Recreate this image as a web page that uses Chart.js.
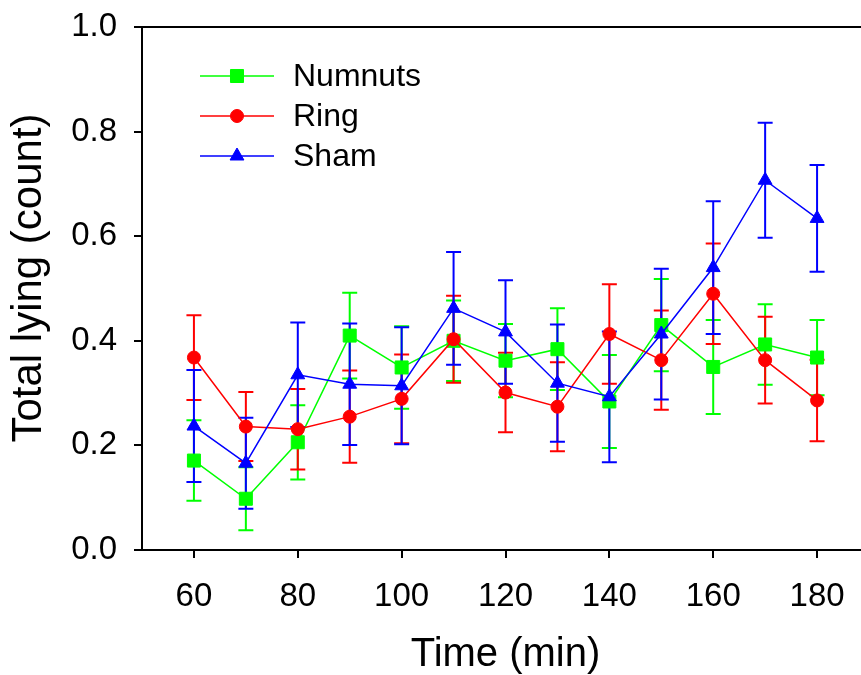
<!DOCTYPE html>
<html>
<head>
<meta charset="utf-8">
<script src="https://cdn.jsdelivr.net/npm/chart.js@4"></script>
<style>
  body { margin: 0; background: #fff; overflow: hidden; }
  #wrap { width: 880px; height: 675px; }
</style>
</head>
<body>
<div id="wrap"><canvas id="lyingChart"></canvas></div>
<script>
const times = [60, 70, 80, 90, 100, 110, 120, 130, 140, 150, 160, 170, 180];
const xTickValues = [60, 80, 100, 120, 140, 160, 180];
const yTickValues = [0, 0.2, 0.4, 0.6, 0.8, 1.0];

const numnuts    = [0.171, 0.098, 0.206, 0.410, 0.349, 0.400, 0.362, 0.384, 0.284, 0.430, 0.350, 0.393, 0.368];
const numnutsErr = [0.077, 0.060, 0.071, 0.082, 0.079, 0.077, 0.070, 0.078, 0.089, 0.088, 0.090, 0.077, 0.072];
const ring       = [0.368, 0.236, 0.231, 0.255, 0.289, 0.403, 0.301, 0.274, 0.413, 0.363, 0.490, 0.363, 0.286];
const ringErr    = [0.081, 0.066, 0.077, 0.088, 0.085, 0.083, 0.076, 0.085, 0.095, 0.095, 0.096, 0.083, 0.078];
const sham       = [0.237, 0.166, 0.335, 0.317, 0.314, 0.462, 0.417, 0.319, 0.293, 0.413, 0.540, 0.707, 0.634];
const shamErr    = [0.107, 0.087, 0.100, 0.116, 0.112, 0.108, 0.099, 0.112, 0.125, 0.125, 0.127, 0.110, 0.102];

const FONT = '"Liberation Sans", Arial, Helvetica, sans-serif';

function series(label, values, errors, color, pointStyle, radius, order) {
  return {
    label: label,
    data: times.map((t, i) => ({ x: t, y: values[i] })),
    errors: errors,
    borderColor: color,
    backgroundColor: color,
    pointBackgroundColor: color,
    pointBorderColor: color,
    pointStyle: pointStyle,
    pointRadius: radius,
    pointBorderWidth: 1,
    borderWidth: 1.5,
    tension: 0,
    order: order
  };
}

// error bars drawn under the lines
const errorBars = {
  id: 'errorBars',
  beforeDatasetsDraw(chart) {
    const ctx = chart.ctx;
    const xs = chart.scales.x, ys = chart.scales.y;
    ctx.save();
    ctx.lineWidth = 2;
    chart.data.datasets.forEach(ds => {
      ctx.strokeStyle = ds.borderColor;
      ds.data.forEach((p, i) => {
        const px = xs.getPixelForValue(p.x);
        const top = ys.getPixelForValue(p.y + ds.errors[i]);
        const bot = ys.getPixelForValue(p.y - ds.errors[i]);
        ctx.beginPath();
        ctx.moveTo(px, top); ctx.lineTo(px, bot);
        ctx.moveTo(px - 7.5, top); ctx.lineTo(px + 7.5, top);
        ctx.moveTo(px - 7.5, bot); ctx.lineTo(px + 7.5, bot);
        ctx.stroke();
      });
    });
    ctx.restore();
  }
};

// top frame line, y title and legend inside the plot
const frameAndLegend = {
  id: 'frameAndLegend',
  afterDraw(chart) {
    const ctx = chart.ctx;
    const area = chart.chartArea;
    ctx.save();
    ctx.strokeStyle = '#000';
    ctx.lineWidth = 2;
    ctx.beginPath();
    ctx.moveTo(area.left - 1, area.top);
    ctx.lineTo(area.right + 1, area.top);
    ctx.stroke();

    ctx.save();
    ctx.translate(29, 278);
    ctx.rotate(-Math.PI / 2);
    ctx.fillStyle = '#000';
    ctx.font = '42px ' + FONT;
    ctx.textAlign = 'center';
    ctx.textBaseline = 'middle';
    ctx.fillText('Total lying (count)', 0, 0);
    ctx.restore();

    const rowY = [76, 116, 156];
    chart.data.datasets.forEach((ds, i) => {
      const y = rowY[i];
      ctx.strokeStyle = ds.borderColor;
      ctx.lineWidth = 1.5;
      ctx.beginPath();
      ctx.moveTo(200, y); ctx.lineTo(274, y);
      ctx.stroke();
      ctx.fillStyle = ds.borderColor;
      ctx.lineWidth = 1;
      Chart.helpers.drawPoint(ctx, {
        pointStyle: ds.pointStyle, radius: ds.pointRadius, borderWidth: 1, rotation: 0
      }, 237, y);
      ctx.fillStyle = '#000';
      ctx.font = '32px ' + FONT;
      ctx.textBaseline = 'middle';
      ctx.textAlign = 'left';
      ctx.fillText(ds.label, 293, y + 1);
    });
    ctx.restore();
  }
};

const chart = new Chart(document.getElementById('lyingChart'), {
  type: 'line',
  data: {
    datasets: [
      series('Numnuts', numnuts, numnutsErr, '#00ff00', 'rect', 9.2, 3),
      series('Ring', ring, ringErr, '#ff0000', 'circle', 6.5, 2),
      series('Sham', sham, shamErr, '#0000ff', 'triangle', 8, 1)
    ]
  },
  options: {
    responsive: true,
    maintainAspectRatio: false,
    animation: false,
    layout: { padding: { top: 27, right: 11, left: 0, bottom: 0 } },
    plugins: {
      legend: { display: false },
      tooltip: { enabled: false }
    },
    scales: {
      x: {
        type: 'linear',
        min: 50,
        max: 190,
        afterBuildTicks: axis => { axis.ticks = xTickValues.map(v => ({ value: v })); },
        afterFit: axis => { axis.height = 125; axis.paddingLeft = 0; axis.paddingRight = 0; },
        grid: { drawOnChartArea: false, drawTicks: true, tickLength: 8, color: '#000', lineWidth: 2 },
        border: { color: '#000', width: 2 },
        ticks: { color: '#000', font: { family: FONT, size: 33 }, padding: 19, maxRotation: 0 },
        title: { display: true, text: 'Time (min)', color: '#000',
                 font: { family: FONT, size: 40, lineHeight: 1 }, padding: { top: 0, bottom: 0 } }
      },
      y: {
        min: 0,
        max: 1,
        afterBuildTicks: axis => { axis.ticks = yTickValues.map(v => ({ value: v })); },
        afterFit: axis => { axis.width = 142; axis.paddingTop = 0; axis.paddingBottom = 0; },
        grid: { drawOnChartArea: false, drawTicks: true, tickLength: 8, color: '#000', lineWidth: 2 },
        border: { color: '#000', width: 2 },
        ticks: { color: '#000', font: { family: FONT, size: 33 }, padding: 17,
                 callback: v => Number(v).toFixed(1) },
        title: { display: false }
      }
    }
  },
  plugins: [errorBars, frameAndLegend]
});
</script>
</body>
</html>
